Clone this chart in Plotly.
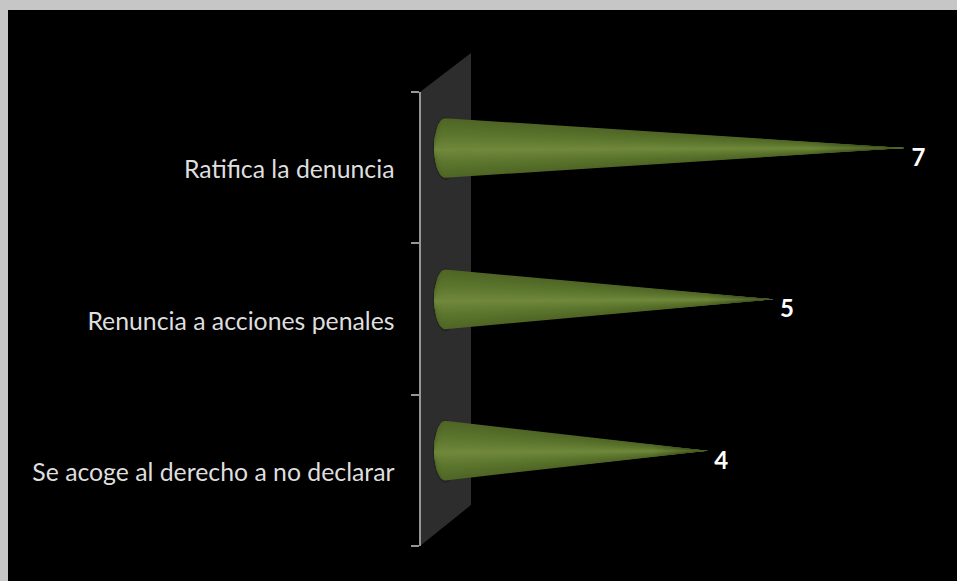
import math
import plotly.graph_objects as go

categories = ["Se acoge al derecho a no declarar", "Renuncia a acciones penales", "Ratifica la denuncia"]
values = [4, 5, 7]

W, H = 957, 581
L, T = 8, 10
PW, PH = W - L, H - T
X0, UNIT = 445, 65.7           # pixel of value 0, pixels per unit
AX_TOP, AX_BOT = 92, 546       # pixels of the category axis ends
AX_X = 419.5
CONE_R = 0.197                 # cone half height, category bands
CONE_OFF = 0.13                # cone sits above the label centre
LABEL_OFF = 0.05
LABEL_DX = 0.10
TEXT_SHIFT = 0.013             # category text sits slightly under the band centre
ELL = 11 / UNIT                # base ellipse half width, value units
N = 26


def px(x):
    return (x - L) / PW


def py(y):
    return (H - y) / PH


def mix(a, b, t):
    return tuple(a[i] + (b[i] - a[i]) * t for i in range(3))


DARK = (80, 102, 38)
MID = (92, 118, 46)
LIGHT = (112, 136, 60)


def cone_shape(v, c, scale, hi):
    xs, ys = [], []
    n = 24
    for j in range(n + 1):
        a = math.pi / 2 + math.pi * j / n
        xs.append(ELL * math.cos(a))
        ys.append(c + hi * (1 - scale) + CONE_R * scale * math.sin(a))
    # nested shapes all converge on the same tip
    xs.append(v)
    ys.append(c)
    xs.append(xs[0])
    ys.append(ys[0])
    return xs, ys


fig = go.Figure()

# real category trace so the axis has its categories (nothing visible)
fig.add_trace(go.Bar(y=categories, x=values, orientation="h", marker_opacity=0,
                     yaxis="y", xaxis="x", hoverinfo="skip", showlegend=False))
# carrier for the axis that holds the category text
fig.add_trace(go.Scatter(x=values, y=list(range(len(values))), mode="markers", marker_opacity=0,
                         yaxis="y3", hoverinfo="skip", showlegend=False))

for i, v in enumerate(values):
    c = i + CONE_OFF
    # soft halo on the wall
    th = [2 * math.pi * k / 40 for k in range(41)]
    fig.add_trace(go.Scatter(
        x=[(ELL + 0.03) * math.cos(t) + 0.01 for t in th],
        y=[c - 0.004 + (CONE_R + 0.012) * math.sin(t) for t in th],
        mode="lines", line_width=0, fill="toself", fillcolor="rgba(0,0,0,0.18)",
        yaxis="y2", hoverinfo="skip", showlegend=False))
    for k in range(N):
        s = 1 - k / N
        t = k / (N - 1)
        col = mix(DARK, MID, min(1, t * 2)) if t < 0.5 else mix(MID, LIGHT, (t - 0.5) * 2)
        xs, ys = cone_shape(v, c, s, -0.012)
        fig.add_trace(go.Scatter(
            x=xs, y=ys, mode="lines", line_width=0, fill="toself",
            fillcolor="rgb(%d,%d,%d)" % col,
            yaxis="y2", hoverinfo="skip", showlegend=False))
    # fade of the point
    xs, ys = cone_shape(v, c, 1, 0)
    fig.add_trace(go.Scatter(
        x=xs, y=ys, mode="lines", line_width=0, fill="toself",
        fillgradient=dict(type="horizontal",
                          colorscale=[[0, "rgba(0,0,0,0)"], [0.8, "rgba(0,0,0,0)"], [1, "rgba(0,0,0,0.35)"]]),
        yaxis="y2", hoverinfo="skip", showlegend=False))

fig.add_trace(go.Scatter(
    x=[v + LABEL_DX for v in values], y=[i + LABEL_OFF for i in range(len(values))],
    mode="text", text=[str(v) for v in values], textposition="middle right",
    textfont=dict(family="Lato", size=24, color="#ffffff", weight="bold"),
    yaxis="y2", hoverinfo="skip", showlegend=False, cliponaxis=False))

wall = "M %f %f L %f %f L %f %f L %f %f Z" % (
    px(420), py(92), px(471), py(53), px(471), py(505), px(420), py(546))

fig.update_layout(
    width=W, height=H,
    margin=dict(l=L, r=0, t=T, b=0),
    paper_bgcolor="#c6c6c6",
    plot_bgcolor="#000000",
    showlegend=False,
    xaxis=dict(range=[(L - X0) / UNIT, (W - X0) / UNIT], visible=False, showgrid=False, zeroline=False),
    yaxis=dict(type="category", categoryorder="array", categoryarray=categories,
               domain=[py(AX_BOT), py(AX_TOP)], anchor="free", position=px(AX_X),
               tickson="boundaries", ticks="outside", ticklen=8, tickwidth=2, tickcolor="#969696",
               showline=True, linecolor="#969696", linewidth=2, showgrid=False, zeroline=False,
               showticklabels=False),
    yaxis2=dict(overlaying="y", range=[-0.5, 2.5], visible=False, showgrid=False, zeroline=False,
                anchor="free", position=0),
    yaxis3=dict(overlaying="y", range=[-0.5 + TEXT_SHIFT, 2.5 + TEXT_SHIFT], showgrid=False, zeroline=False,
                anchor="free", position=px(AX_X), ticks="", showline=False,
                tickmode="array", tickvals=list(range(len(categories))), ticktext=categories,
                ticklabelstandoff=25,
                tickfont=dict(family="Lato", size=24.8, color="#dedede")),
    shapes=[
        dict(type="rect", x0=0, x1=1, y0=0, y1=1, xref="paper", yref="paper", layer="below",
             fillcolor="#000000", line_width=0),
        dict(type="path", path=wall, xref="paper", yref="paper", layer="below",
             fillcolor="#2d2d2d", line_width=0),
    ],
)

fig.write_html("out.html", config={"displayModeBar": False},
               post_script="document.body.style.margin='0';")
